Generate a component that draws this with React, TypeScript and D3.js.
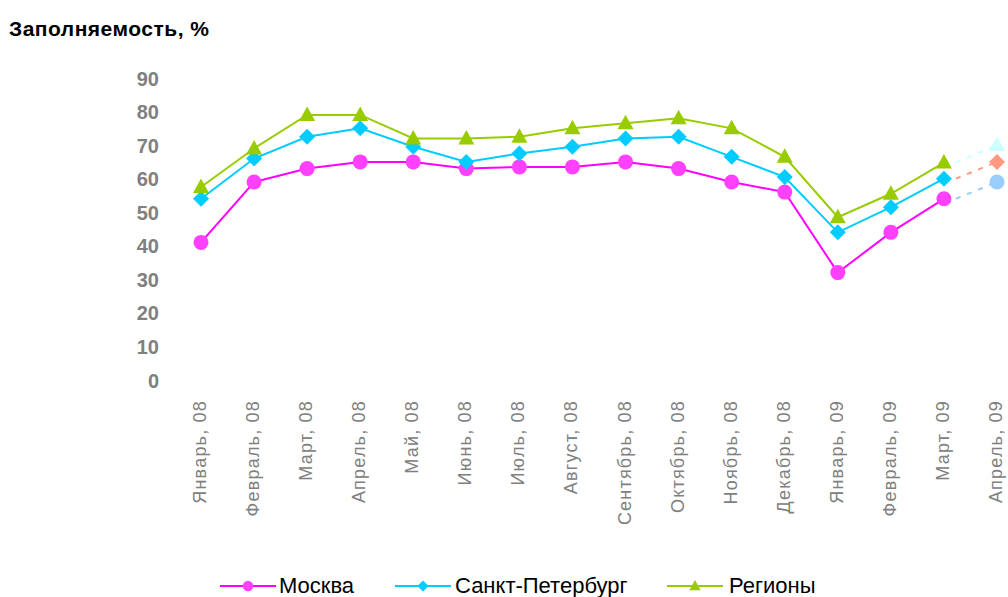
import React from "react";
import * as d3 from "d3";

const categories = ["Январь, 08","Февраль, 08","Март, 08","Апрель, 08","Май, 08","Июнь, 08","Июль, 08","Август, 08","Сентябрь, 08","Октябрь, 08","Ноябрь, 08","Декабрь, 08","Январь, 09","Февраль, 09","Март, 09","Апрель, 09"];
const moscow = [41, 59, 63, 65, 65, 63, 63.5, 63.5, 65, 63, 59, 56, 32, 44, 54];
const spb = [54, 66, 72.5, 75, 69.5, 65, 67.5, 69.5, 72, 72.5, 66.5, 60.5, 44, 51.5, 60];
const regions = [57.5, 69, 79, 79, 72, 72, 72.5, 75, 76.5, 78, 75, 66.5, 48.5, 55.5, 64.8];
const forecastMoscow = 59;
const forecastSpb = 65;
const forecastRegions = 70;
const yTicks = [0, 10, 20, 30, 40, 50, 60, 70, 80, 90];

const FONT = "'Liberation Sans', Arial, sans-serif";

function Marker({ type, x, y, color, s = 1 }: { type: string; x: number; y: number; color: string; s?: number }) {
  if (type === "circle") return <circle cx={x} cy={y} r={7.5 * s} fill={color} />;
  if (type === "diamond") return <path d={`M${x},${y - 8 * s}L${x + 8 * s},${y}L${x},${y + 8 * s}L${x - 8 * s},${y}Z`} fill={color} />;
  return <path d={`M${x},${y - 8.5 * s}L${x + 8 * s},${y + 6 * s}L${x - 8 * s},${y + 6 * s}Z`} fill={color} />;
}

export default function App() {
  const x = d3.scalePoint<string>().domain(categories).range([201, 997]);
  const y = d3.scaleLinear().domain([0, 90]).range([380, 78]);
  const line = d3.line<number>().x((_, i) => x(categories[i])!).y((d) => y(d));

  const series = [
    { name: "Москва", data: moscow, color: "#ff00ff", mcolor: "#ff40ff", type: "circle", fc: forecastMoscow, fcolor: "#99ccff", dcolor: "#99ccff" },
    { name: "Санкт-Петербург", data: spb, color: "#00ccff", mcolor: "#00ccff", type: "diamond", fc: forecastSpb, fcolor: "#ff9980", dcolor: "#ff9980" },
    { name: "Регионы", data: regions, color: "#99cc00", mcolor: "#99cc00", type: "triangle", fc: forecastRegions, fcolor: "#ccffff", dcolor: "#ccffff" },
  ];

  const lastCat = categories[14];
  const fcCat = categories[15];

  const legendItems = [
    { s: series[0], x0: 220, tx: 279 },
    { s: series[1], x0: 395, tx: 455 },
    { s: series[2], x0: 667, tx: 729 },
  ];

  return (
    <svg width={1008} height={597} style={{ position: "absolute", left: 0, top: 0 }}>
      <rect width={1008} height={597} fill="#fff" />
      <text x={9} y={36} fontFamily={FONT} fontWeight="bold" fontSize={21} letterSpacing={0.5} fill="#000">Заполняемость, %</text>
      {yTicks.map((t) => (
        <text key={t} x={159} y={y(t) + 7.5} textAnchor="end" fontFamily={FONT} fontWeight="bold" fontSize={20} fill="#808080">{t}</text>
      ))}
      {categories.map((c) => (
        <text key={c} transform={`translate(${x(c)! + 5},400) rotate(-90)`} textAnchor="end" fontFamily={FONT} fontSize={18} letterSpacing={1.2} fill="#808080">{c}</text>
      ))}
      {series.map((s) => (
        <g key={s.name}>
          <line x1={x(lastCat)! + 12} y1={y(s.data[14])} x2={x(fcCat)!} y2={y(s.fc)} stroke={s.dcolor} strokeWidth={2} strokeDasharray="5,7" />
          <path d={line(s.data)!} fill="none" stroke={s.color} strokeWidth={2} />
          {s.data.map((v, i) => (
            <Marker key={i} type={s.type} x={x(categories[i])!} y={y(v)} color={s.mcolor} />
          ))}
          <Marker type={s.type} x={x(fcCat)!} y={y(s.fc)} color={s.fcolor} />
        </g>
      ))}
      {legendItems.map(({ s, x0, tx }) => (
        <g key={s.name}>
          <line x1={x0} x2={x0 + 56} y1={586} y2={586} stroke={s.color} strokeWidth={2} />
          <Marker type={s.type} x={x0 + 28} y={586} color={s.mcolor} s={0.7} />
          <text x={tx} y={593} fontFamily={FONT} fontSize={22} fill="#000">{s.name}</text>
        </g>
      ))}
    </svg>
  );
}
